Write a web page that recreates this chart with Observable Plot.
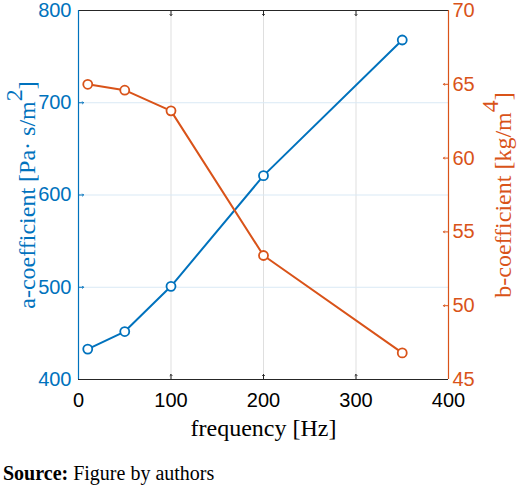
<!DOCTYPE html>
<html>
<head>
<meta charset="utf-8">
<script src="https://cdn.jsdelivr.net/npm/d3@7"></script>
<script src="https://cdn.jsdelivr.net/npm/@observablehq/plot@0.6"></script>
<style>
  body { margin: 0; background: #fff; }
  #chart svg { display: block; }
  #caption { font-family: "Liberation Serif", serif; font-size: 20px; line-height: 24px; margin-top: 16px; padding-left: 3px; color: #000; }
</style>
</head>
<body>
<div id="chart"></div>
<div id="caption"><b>Source:</b> Figure by authors</div>
<script>
const freq = [10, 50, 100, 200, 350];
const aCoef = [433, 452, 501, 621, 768];
const bCoef = [65.0, 64.6, 63.2, 53.4, 46.8];
const xTicks = [0, 100, 200, 300, 400];
const aTicks = [400, 500, 600, 700, 800];
const bTicks = [45, 50, 55, 60, 65, 70];
const xLabel = "frequency [Hz]";
const aLabel = "a-coefficient [Pa· s/m2]";
const bLabel = "b-coefficient [kg/m4]";

const blue = "#0072BD", red = "#D95319", dark = "#262626";
const aDomain = [aTicks[0], aTicks[aTicks.length - 1]];
const bDomain = [bTicks[0], bTicks[bTicks.length - 1]];
const xDomain = [xTicks[0], xTicks[xTicks.length - 1]];
const bToA = b => aDomain[0] + (b - bDomain[0]) * (aDomain[1] - aDomain[0]) / (bDomain[1] - bDomain[0]);
const aToB = a => bDomain[0] + (a - aDomain[0]) * (bDomain[1] - bDomain[0]) / (aDomain[1] - aDomain[0]);

const aData = freq.map((f, i) => ({f, v: aCoef[i]}));
const bData = freq.map((f, i) => ({f, v: bToA(bCoef[i])}));

const plot = Plot.plot({
  width: 520, height: 445,
  marginLeft: 78, marginRight: 72, marginTop: 10, marginBottom: 66,
  style: {fontFamily: "Liberation Sans, Arial, sans-serif", fontSize: "20px", background: "#fff"},
  x: {domain: xDomain},
  y: {domain: aDomain},
  marks: [
    Plot.gridX(xTicks.slice(1, -1), {stroke: "#dfdfdf", strokeOpacity: 1}),
    Plot.gridY(aTicks.slice(1, -1), {stroke: "#d9e9f5", strokeOpacity: 1}),
    Plot.axisX(xTicks, {tickSize: 0, tickPadding: 13, fill: "#000", fontSize: 20, label: null}),
    Plot.axisY(aTicks, {anchor: "left", tickSize: 0, tickPadding: 7, fill: blue, fontSize: 20, label: null}),
    Plot.axisY(bTicks.map(bToA), {anchor: "right", tickSize: 0, tickPadding: 4, fill: red, fontSize: 20, label: null, tickFormat: d => Math.round(aToB(d))}),
    // inward tick marks
    Plot.vector(xTicks.slice(1, -1), {x: d => d, y: aDomain[0], length: 5, rotate: 0, anchor: "start", stroke: dark, strokeWidth: 1}),
    Plot.vector(xTicks.slice(1, -1), {x: d => d, y: aDomain[1], length: 5, rotate: 180, anchor: "start", stroke: dark, strokeWidth: 1}),
    Plot.vector(aTicks.slice(1, -1), {x: xDomain[0], y: d => d, length: 5, rotate: 90, anchor: "start", stroke: blue, strokeWidth: 1}),
    Plot.vector(bTicks.slice(1, -1).map(bToA), {x: xDomain[1], y: d => d, length: 5, rotate: -90, anchor: "start", stroke: red, strokeWidth: 1}),
    // box
    Plot.ruleY([aDomain[0], aDomain[1]], {stroke: dark, strokeWidth: 1}),
    Plot.ruleX([xDomain[0]], {stroke: blue, strokeWidth: 1.2}),
    Plot.ruleX([xDomain[1]], {stroke: red, strokeWidth: 1.2}),
    // series
    Plot.line(aData, {x: "f", y: "v", stroke: blue, strokeWidth: 2}),
    Plot.dot(aData, {x: "f", y: "v", r: 4.5, stroke: blue, fill: "#fff", strokeWidth: 1.8}),
    Plot.line(bData, {x: "f", y: "v", stroke: red, strokeWidth: 2}),
    Plot.dot(bData, {x: "f", y: "v", r: 4.5, stroke: red, fill: "#fff", strokeWidth: 1.8}),
    // labels
    Plot.text([xLabel], {frameAnchor: "bottom", dy: 49, text: d => d, textAnchor: "middle", fontFamily: "Liberation Serif, serif", fontSize: 24, fill: "#000", lineAnchor: "middle"}),
    Plot.text([aLabel], {frameAnchor: "left", dx: -51, rotate: -90, text: d => d, textAnchor: "middle", fontFamily: "Liberation Serif, serif", fontSize: 24, fill: blue, lineAnchor: "middle"}),
    Plot.text([bLabel], {frameAnchor: "right", dx: 55, rotate: -90, text: d => d, textAnchor: "middle", fontFamily: "Liberation Serif, serif", fontSize: 24, fill: red, lineAnchor: "middle"})
  ]
});

// superscripts for unit exponents
d3.select(plot).selectAll("text").each(function() {
  const t = this.textContent;
  const m = (t === aLabel || t === bLabel) ? t.match(/^(.*m)(\d)(\])$/) : null;
  if (!m) return;
  const sel = d3.select(this);
  sel.text(null);
  sel.append("tspan").text(m[1]);
  sel.append("tspan").attr("dy", "-0.55em").text(m[2]);
  sel.append("tspan").attr("dy", "0.55em").text(m[3]);
});

document.getElementById("chart").appendChild(plot);
</script>
</body>
</html>
